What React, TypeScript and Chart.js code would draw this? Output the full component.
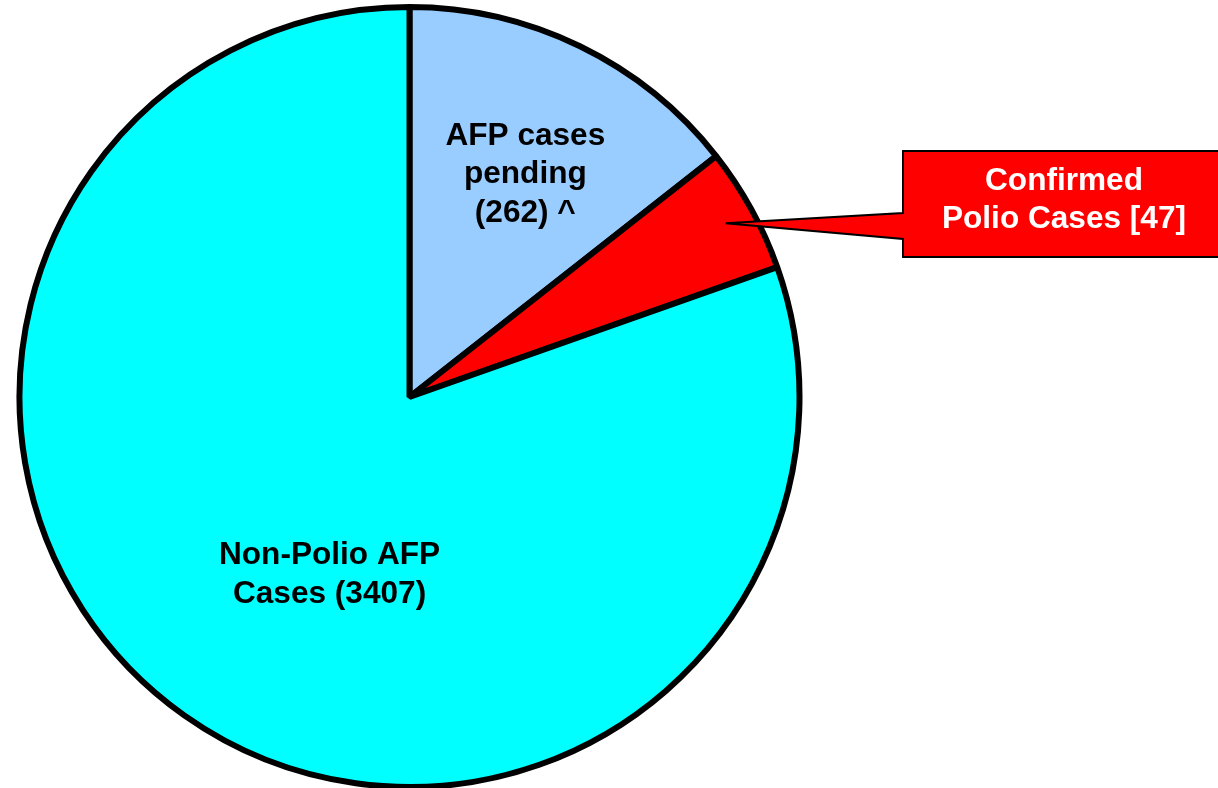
import React, { useEffect, useRef } from "react";
import { Chart, registerables } from "chart.js";

Chart.register(...registerables);

// Slice labels (text shown on the chart)
const categories = ["AFP cases pending", "Confirmed Polio Cases", "Non-Polio AFP Cases"];
const caseCounts = [262, 47, 3407];
// Slice sizes as drawn in the picture (share of the circle, %)
const sliceShares = [14.4, 5.2, 80.4];
const sliceColors = ["#99CCFF", "#FF0000", "#00FFFF"];

const labelLines = [
  ["AFP cases", "pending", `(${caseCounts[0]}) ^`],
  ["Confirmed", `Polio Cases [${caseCounts[1]}]`],
  ["Non-Polio AFP", `Cases (${caseCounts[2]})`],
];

const FONT = 'bold 31.6px "Liberation Sans", Arial, Helvetica, sans-serif';

const labelPlugin = {
  id: "pieLabels",
  afterDraw(chart: any) {
    const ctx = chart.ctx;
    const meta = chart.getDatasetMeta(0);
    const arc0 = meta.data[0];
    const cx = arc0.x;
    const cy = arc0.y;
    const R = arc0.outerRadius;
    ctx.save();
    ctx.font = FONT;
    ctx.textAlign = "center";
    ctx.textBaseline = "middle";
    const lh = 38.5;

    const drawLines = (lines: string[], x: number, y: number, color: string) => {
      ctx.fillStyle = color;
      const n = lines.length;
      lines.forEach((t, i) => {
        ctx.fillText(t, x, y + (i - (n - 1) / 2) * lh);
      });
    };
    drawLines(labelLines[0], cx + 0.297 * R, cy - 0.571 * R, "#000");
    drawLines(labelLines[2], cx - 0.205 * R, cy + 0.456 * R, "#000");

    // callout for confirmed polio cases
    const a1 = meta.data[1];
    const mid = (a1.startAngle + a1.endAngle) / 2;
    const tipX = cx + Math.cos(mid) * R * 0.925;
    const tipY = cy + Math.sin(mid) * R * 0.925;
    const bx = 903, by = 151, bw = 320, bh = 106;
    ctx.beginPath();
    ctx.moveTo(bx, by);
    ctx.lineTo(bx + bw, by);
    ctx.lineTo(bx + bw, by + bh);
    ctx.lineTo(bx, by + bh);
    ctx.lineTo(bx, 239);
    ctx.lineTo(tipX, tipY);
    ctx.lineTo(bx, 213);
    ctx.closePath();
    ctx.fillStyle = "#FF0000";
    ctx.fill();
    ctx.lineWidth = 2;
    ctx.strokeStyle = "#000";
    ctx.lineJoin = "miter";
    ctx.stroke();
    drawLines(labelLines[1], 1064, 200.5, "#FFFFFF");
    ctx.restore();
  },
};

export default function App() {
  const ref = useRef<HTMLCanvasElement | null>(null);
  useEffect(() => {
    if (!ref.current) return;
    const chart = new Chart(ref.current, {
      type: "pie",
      data: {
        labels: categories,
        datasets: [
          {
            data: sliceShares,
            backgroundColor: sliceColors,
            borderColor: "#000000",
            borderWidth: 6,
            radius: 390,
          } as any,
        ],
      },
      options: {
        responsive: false,
        animation: false,
        layout: { padding: { left: 0, right: 399, top: 6, bottom: 0 } },
        plugins: {
          legend: { display: false },
          tooltip: { enabled: false },
          title: { display: false },
        },
      },
      plugins: [labelPlugin],
    });
    return () => chart.destroy();
  }, []);
  return (
    <div style={{ position: "fixed", left: 0, top: 0, width: 1218, height: 788, background: "#fff" }}>
      <canvas ref={ref} width={1218} height={788} style={{ display: "block" }} />
    </div>
  );
}
